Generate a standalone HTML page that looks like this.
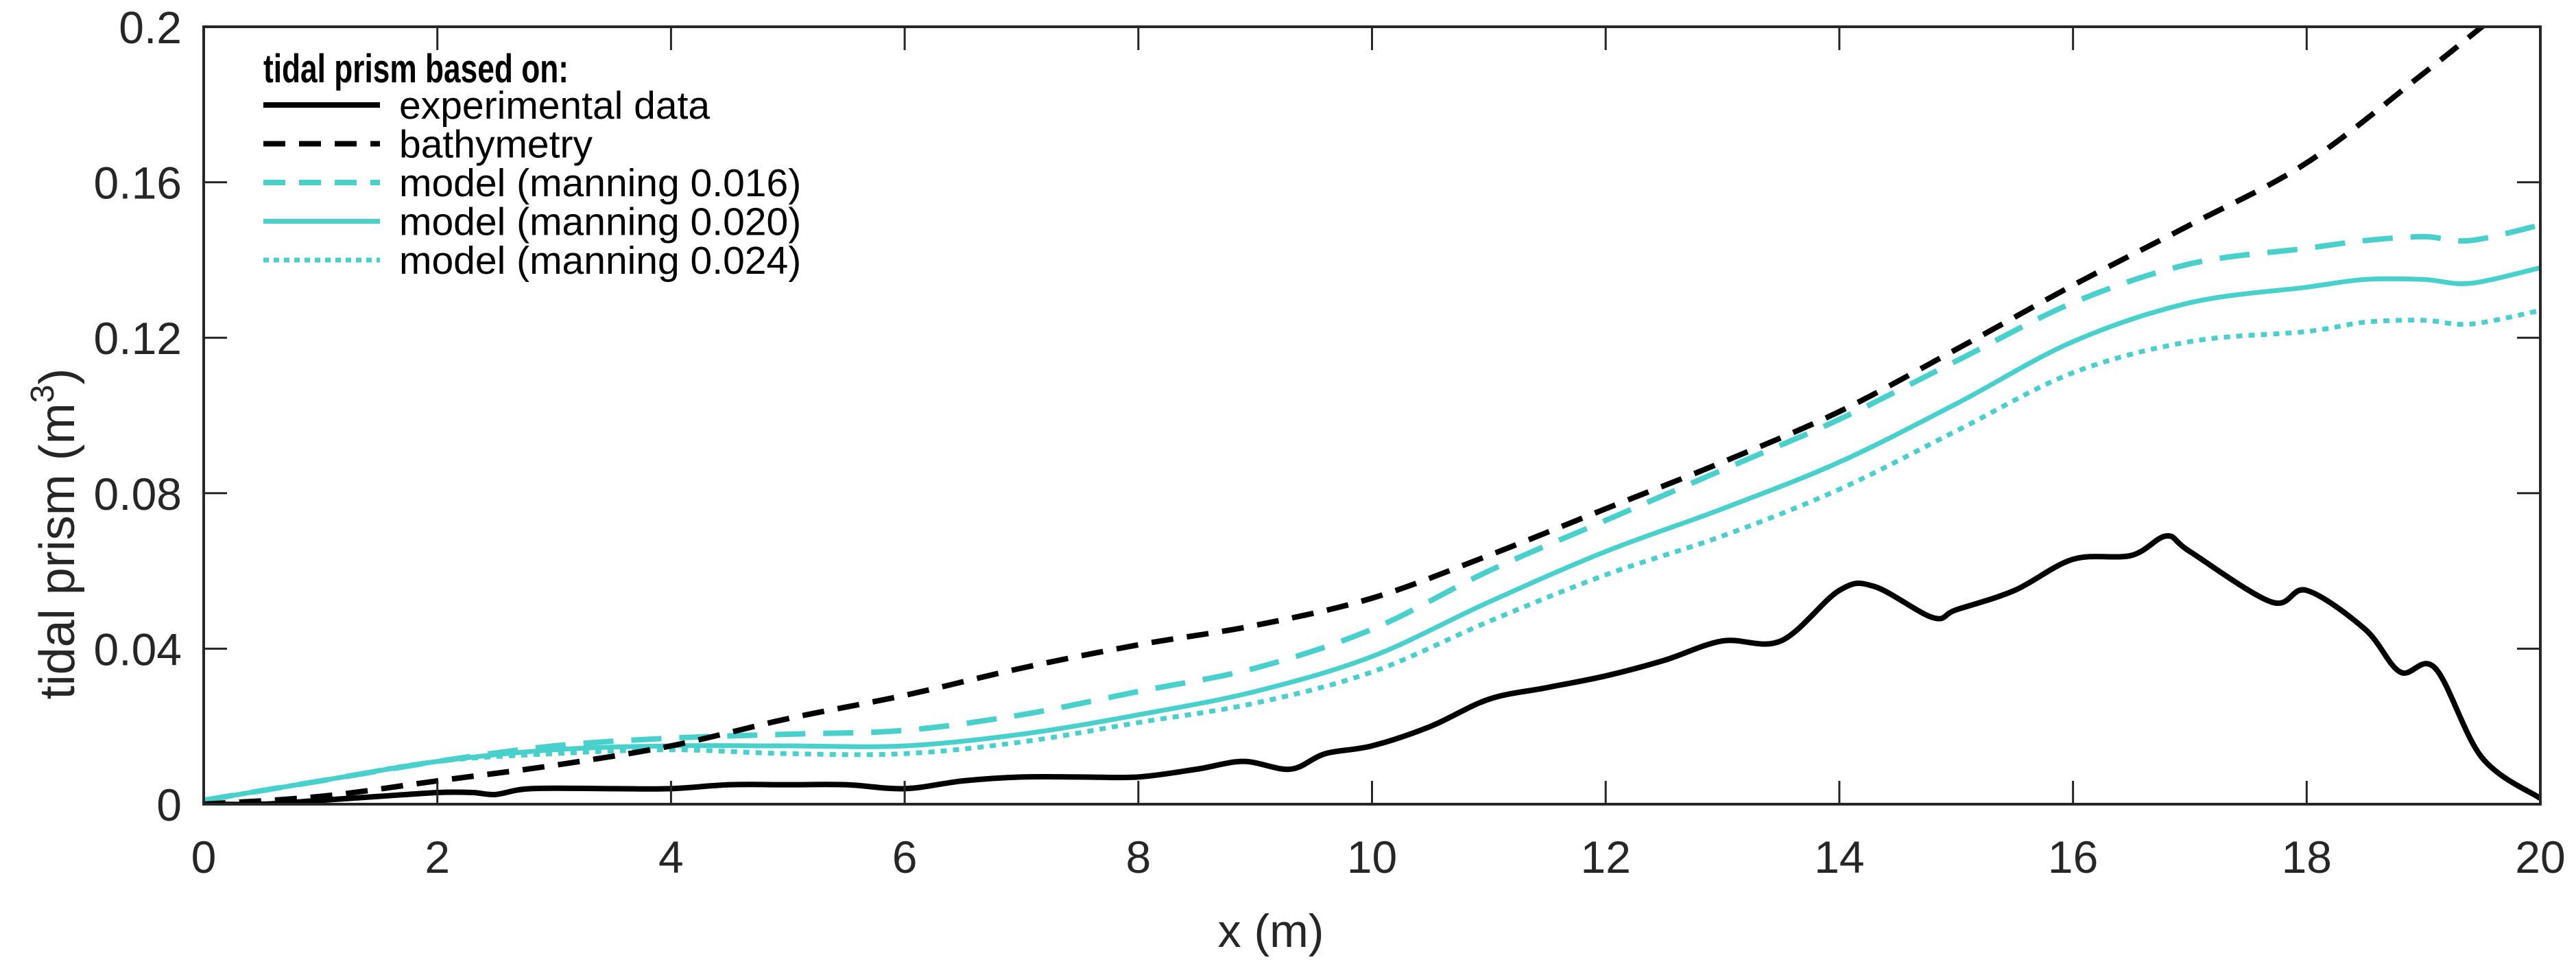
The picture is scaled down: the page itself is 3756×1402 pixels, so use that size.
<!DOCTYPE html>
<html><head><meta charset="utf-8"><style>
html,body{margin:0;padding:0;background:#fff;}
svg{display:block;font-family:"Liberation Sans",Arial,sans-serif;}
</style></head><body>
<svg id="chart" width="3756" height="1402" viewBox="0 0 3756 1402" xmlns="http://www.w3.org/2000/svg">
<defs><clipPath id="pc"><rect x="297" y="39" width="3407" height="1133"/></clipPath></defs>
<rect x="0" y="0" width="3756" height="1402" fill="#fff"/>
<g id="series" clip-path="url(#pc)"></g>
<g id="axes"></g>
<text x="1853" y="1380" font-size="68" text-anchor="middle" fill="#262626">x (m)</text>
<text transform="translate(108,778) rotate(-90)" font-size="72" text-anchor="middle" fill="#262626">tidal prism (m<tspan font-size="48" dy="-30">3</tspan><tspan dy="30">)</tspan></text>
<g id="legend">
<text x="384" y="120" font-size="58" font-weight="bold" fill="#000" textLength="445" lengthAdjust="spacingAndGlyphs">tidal prism based on:</text>
</g>
</svg>
<script>
const X0=297,X1=3704,Y0=1172,Y1=39;
const xMin=0,xMax=20,yMin=0,yMax=0.2;
function sx(v){return X0+(v-xMin)/(xMax-xMin)*(X1-X0);}
function sy(v){return Y0-(v-yMin)/(yMax-yMin)*(Y0-Y1);}
const NS='http://www.w3.org/2000/svg';

const xTicks=[0,2,4,6,8,10,12,14,16,18,20];
const yTicks=[0,0.04,0.08,0.12,0.16,0.2];
const yTickLabels=['0','0.04','0.08','0.12','0.16','0.2'];

const expX=[0,0.5,1,1.5,2,2.3,2.5,2.8,3.5,4,4.5,5,5.5,6,6.5,7,7.5,8,8.5,8.9,9.3,9.6,10,10.5,11,11.5,12,12.5,13,13.5,14,14.3,14.8,15,15.5,16,16.5,16.8,17,17.7,18,18.5,18.8,19.1,19.5,20];
const expY=[0,0,0.001,0.002,0.003,0.003,0.0025,0.004,0.004,0.004,0.005,0.005,0.005,0.004,0.006,0.007,0.007,0.007,0.009,0.011,0.009,0.013,0.015,0.02,0.027,0.03,0.033,0.037,0.042,0.042,0.055,0.056,0.048,0.05,0.055,0.063,0.064,0.069,0.065,0.052,0.055,0.045,0.034,0.035,0.012,0.0015];
const bathX=[0,1,2,3,4,5,6,7,8,9,10,11,12,13,14,15,16,17,18,19,19.5,20];
const bathY=[0,0.002,0.006,0.01,0.015,0.022,0.028,0.035,0.041,0.046,0.053,0.064,0.076,0.088,0.101,0.117,0.1335,0.149,0.165,0.188,0.2,0.212];
const modX=[0,1,2,3,4,5,6,7,8,9,10,11,12,13,14,15,16,17,18,18.5,19,19.4,20];
const m016Y=[0.001,0.006,0.011,0.015,0.017,0.018,0.019,0.023,0.029,0.035,0.045,0.06,0.073,0.086,0.099,0.114,0.129,0.139,0.143,0.145,0.146,0.145,0.149];
const m020Y=[0.001,0.006,0.011,0.014,0.015,0.015,0.015,0.018,0.023,0.029,0.038,0.052,0.065,0.076,0.088,0.103,0.119,0.129,0.133,0.135,0.135,0.134,0.138];
const m024Y=[0.001,0.006,0.011,0.013,0.014,0.013,0.013,0.016,0.021,0.026,0.034,0.047,0.059,0.069,0.081,0.096,0.111,0.119,0.1216,0.124,0.1245,0.1235,0.127];

function pathD(xs,ys){
  const p=xs.map((x,i)=>[sx(x),sy(ys[i])]);
  let d='M'+p[0][0]+','+p[0][1];
  for(let i=0;i<p.length-1;i++){
    const a=p[i-1]||p[i],b=p[i],c=p[i+1],e=p[i+2]||c;
    const c1x=b[0]+(c[0]-a[0])/6,c1y=b[1]+(c[1]-a[1])/6;
    const c2x=c[0]-(e[0]-b[0])/6,c2y=c[1]-(e[1]-b[1])/6;
    d+=' C'+c1x+','+c1y+' '+c2x+','+c2y+' '+c[0]+','+c[1];
  }
  return d;
}
const CY='#48D1CC';
const series=[
 {x:modX,y:m024Y,c:CY,w:7,dash:'9 9',ldash:'8 7',name:'line-manning-0.024',label:'model (manning 0.024)'},
 {x:modX,y:m020Y,c:CY,w:7,dash:'',ldash:'',name:'line-manning-0.020',label:'model (manning 0.020)'},
 {x:modX,y:m016Y,c:CY,w:8,dash:'44 26',ldash:'32 20',name:'line-manning-0.016',label:'model (manning 0.016)'},
 {x:bathX,y:bathY,c:'#000',w:8,dash:'32 20',ldash:'32 20',name:'line-bathymetry',label:'bathymetry'},
 {x:expX,y:expY,c:'#000',w:8,dash:'',ldash:'',name:'line-experimental-data',label:'experimental data'}
];
const sg=document.getElementById('series');
series.forEach(s=>{
  const el=document.createElementNS(NS,'path');
  el.setAttribute('d',pathD(s.x,s.y));
  el.setAttribute('fill','none');el.setAttribute('stroke',s.c);el.setAttribute('stroke-width',s.w);
  if(s.dash)el.setAttribute('stroke-dasharray',s.dash);
  
  
  sg.appendChild(el);
});

const ax=document.getElementById('axes');
function line(x1,y1,x2,y2,nm){
  const l=document.createElementNS(NS,'line');
  l.setAttribute('x1',x1);l.setAttribute('y1',y1);l.setAttribute('x2',x2);l.setAttribute('y2',y2);
  l.setAttribute('stroke','#262626');l.setAttribute('stroke-width',3);
  
  
  ax.appendChild(l);
}
function text(x,y,t,anchor,nm){
  const e=document.createElementNS(NS,'text');
  e.setAttribute('x',x);e.setAttribute('y',y);e.setAttribute('font-size',66);
  e.setAttribute('text-anchor',anchor);e.setAttribute('fill','#262626');e.textContent=t;
  
  
  ax.appendChild(e);
}
const box=document.createElementNS(NS,'rect');
box.setAttribute('x',X0);box.setAttribute('y',Y1);box.setAttribute('width',X1-X0);box.setAttribute('height',Y0-Y1);
box.setAttribute('fill','none');box.setAttribute('stroke','#262626');box.setAttribute('stroke-width',4);


ax.appendChild(box);
xTicks.forEach(v=>{
  line(sx(v),Y0,sx(v),Y0-34,'x-tick');line(sx(v),Y1,sx(v),Y1+34,'x-tick-top');
  text(sx(v),1272,String(v),'middle','x-tick-label');
});
yTicks.forEach((v,i)=>{
  line(X0,sy(v),X0+34,sy(v),'y-tick');line(X1,sy(v),X1-34,sy(v),'y-tick-right');
  text(265,sy(v)+24,yTickLabels[i],'end','y-tick-label');
});

const lg=document.getElementById('legend');
const legendOrder=[4,3,2,1,0];
legendOrder.forEach((si,k)=>{
  const s=series[si];const yy=153+k*56.5;
  const l=document.createElementNS(NS,'line');
  l.setAttribute('x1',384);l.setAttribute('x2',554);l.setAttribute('y1',yy);l.setAttribute('y2',yy);
  l.setAttribute('stroke',s.c);l.setAttribute('stroke-width',s.w);
  if(s.ldash)l.setAttribute('stroke-dasharray',s.ldash);
  
  
  lg.appendChild(l);
  const t=document.createElementNS(NS,'text');
  t.setAttribute('x',582);t.setAttribute('y',yy+20);t.setAttribute('font-size',57);t.setAttribute('fill','#000');
  t.textContent=s.label;
  
  
  lg.appendChild(t);
});
</script>
</body></html>
